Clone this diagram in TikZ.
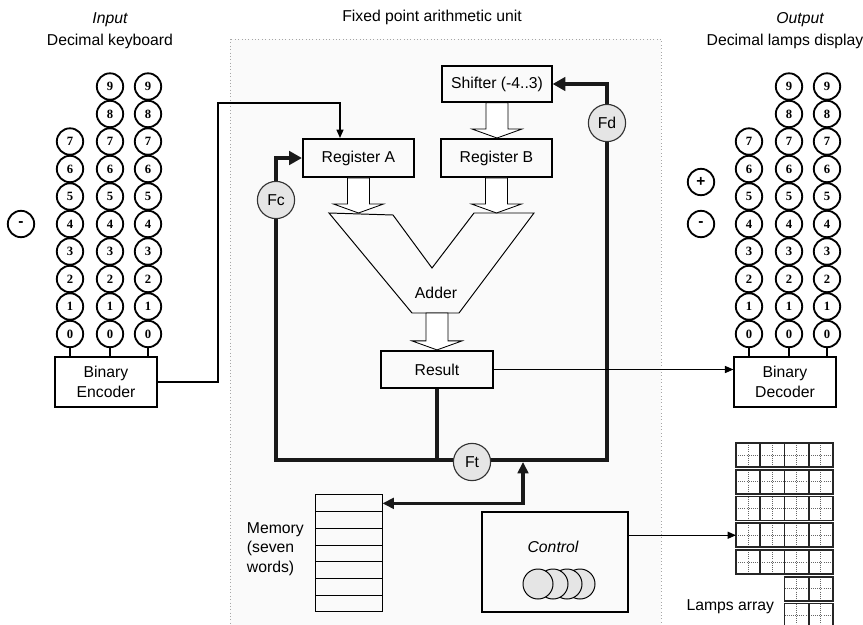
\documentclass[tikz,border=0pt]{standalone}
\usepackage{fontspec}
\setmainfont{Liberation Sans}
\newfontfamily\keyfont{Liberation Serif}
\usetikzlibrary{arrows.meta,calc}
\tikzset{
	keycap/.style={circle, draw, line width=1.3pt, minimum size=0.66cm, inner sep=0pt, font=\keyfont\bfseries\fontsize{9}{10}\selectfont},
	signcap/.style={keycap, font=\bfseries\fontsize{11}{12}\selectfont},
	flag/.style={circle, draw=black!80, fill=black!10, line width=0.8pt, minimum size=0.93cm, inner sep=0pt},
	reg/.style={draw, line width=1.4pt, minimum width=2.78cm, minimum height=0.95cm},
	coder/.style={draw, line width=0.8pt, minimum width=2.55cm, minimum height=1.25cm, align=center, font=\fontsize{11.2}{14}\selectfont},
	memcell/.style={draw, line width=0.7pt, minimum width=1.675cm, minimum height=0.42cm, inner sep=0pt},
	bus/.style={line width=2.8pt, draw=black!90},
	bushead/.style={-{Triangle[length=9pt,width=9.5pt]}},
	wire/.style={line width=0.9pt, -{Triangle[length=6pt,width=5pt]}},
	fat/.style={line width=0.6pt, fill=white},
	lampdot/.style={densely dotted, line width=0.5pt, draw=black!60}
}
% open block arrow from #1 down to the tip #2
\def\fatarrow(#1)(#2){\draw[fat] ($(#1)+(-11,0)$) -- ($(#1)+(11,0)$) -- ($(#2)+(11,-9)$) -- ($(#2)+(25,-9)$) -- (#2) -- ($(#2)+(-25,-9)$) -- ($(#2)+(-11,-9)$) -- cycle;}

\begin{document}
\begin{tikzpicture}[x=0.025cm, y=-0.025cm, font=\fontsize{11.2}{13.5}\selectfont]
	%%%%% START %%%%%
	\clip (0,0) rectangle (863,625);
	
	% unit frame
	\draw[dotted, draw=black!35, fill=black!2] (230,39) rectangle (661,640);
	\node (unittitle) at (432,17) {Fixed point arithmetic unit};
	\node (intitle) at (110,20) {\itshape Input};
	\node (inlabel) at (110,41) {Decimal keyboard};
	\node (outtitle) at (800,20) {\itshape Output};
	\node (outlabel) at (785,41) {Decimal lamps display};
	
	% keyboard
	\node[coder] (encoder) at (106,382) {Binary\\Encoder};
	\foreach \c/\x/\n in {1/70/7,2/110/9,3/148/9}{
		\foreach \d in {0,...,\n}
			\node[keycap] (in\c\d) at (\x,{334-27.5*\d}) {\d};
		\draw[line width=0.9pt] (in\c0) -- (in\c0 |- encoder.north);
	}
	\node[signcap] (inminus) at (21,224) {-};
	
	% lamps display
	\node[coder] (decoder) at (785,382) {Binary\\Decoder};
	\foreach \c/\x/\n in {1/749/7,2/789/9,3/827/9}{
		\foreach \d in {0,...,\n}
			\node[keycap] (out\c\d) at (\x,{334-27.5*\d}) {\d};
		\draw[line width=0.9pt] (out\c0) -- (out\c0 |- decoder.north);
	}
	\node[signcap] (outplus) at (701,182) {+};
	\node[signcap] (outminus) at (701,224) {-};
	
	% registers and adder
	\node[draw, line width=0.9pt, minimum width=2.75cm, minimum height=0.9cm] (shifter) at (497,84) {Shifter (-4..3)};
	\node[reg] (regA) at (358.5,158) {Register A};
	\node[reg] (regB) at (496.5,158) {Register B};
	\node[reg, minimum width=2.8cm, minimum height=0.93cm] (result) at (437,369.5) {Result};
	
	\coordinate (a1) at (329,213);
	\coordinate (a2) at (393,215);
	\coordinate (a3) at (432,268);
	\coordinate (a4) at (474,213);
	\coordinate (a5) at (534,213);
	\coordinate (a6) at (459,313);
	\coordinate (a7) at (412,313);
	\draw[line width=0.7pt] (a1) -- (a2) -- (a3) -- (a4) -- (a5) -- (a6) -- (a7) -- cycle;
	\node (adder) at (436,293) {Adder};
	
	\fatarrow(shifter.south)(shifter.south |- regB.north)
	\fatarrow(regA.south)(regA.south |- a1)
	\fatarrow(regB.south)(regB.south |- a5)
	\fatarrow(result.north |- a7)(result.north)
	
	% keyboard into register A
	\coordinate (kb) at (218,103);
	\draw[wire] (encoder.east) -| (kb) -| ($(regA.north)+(-18.5,0)$);
	
	% result bus
	\coordinate (lb) at (276,460);
	\coordinate (rb) at (607,460);
	\draw[bus, {Triangle[length=9pt,width=9.5pt]}-{Triangle[length=9pt,width=9.5pt]}] (regA.west) -| (lb) -- (rb) |- (shifter.east);
	\draw[bus] (result.south) -- (result.south |- lb);
	\draw[wire] (result.east) -- (result.east -| decoder.west);
	
	\node[flag] (fc) at (276,200) {Fc};
	\node[flag] (fd) at (607,123) {Fd};
	\node[flag] (ft) at (472,462) {Ft};
	
	% memory
	\foreach \k in {1,...,7}
		\node[memcell] (mem\k) at (348.5,{495+16.7*(\k-0.5)}) {};
	\node[anchor=west, align=left, font=\fontsize{11.2}{13.8}\selectfont] (memlabel) at (242,549) {Memory\\(seven\\words)};
	\coordinate (mt) at (523,462);
	\draw[bus, line width=2.2pt, {Triangle[length=8pt,width=7.5pt]}-{Triangle[length=8pt,width=7.5pt]}] (mem1.east) -| (mt);
	
	% control
	\node[draw, line width=0.8pt, minimum width=3.65cm, minimum height=2.5cm] (control) at (555,562) {};
	\node (ctrllabel) at (553,547) {\itshape Control};
	\foreach \x in {580,567,553,538}
		\draw[fill=black!10, line width=0.7pt] (\x,584) circle (0.375cm);
	
	% lamps array
	\foreach \i [evaluate=\i as \ly using 443+26.75*\i] in {0,...,6}{
		\coordinate (lamp\i) at (736,\ly+12);
		\foreach \j [evaluate=\j as \lx using 736+24.25*\j] in {0,...,3}{
			\ifnum\i<5\relax
				\draw[lampdot] (\lx+12,\ly) -- (\lx+12,\ly+24) (\lx,\ly+12) -- (\lx+24,\ly+12);
				\draw[line width=1.1pt, draw=black!85] (\lx,\ly) rectangle (\lx+24.25,\ly+24);
			\else\ifnum\j>1\relax
				\draw[lampdot] (\lx+12,\ly) -- (\lx+12,\ly+24) (\lx,\ly+12) -- (\lx+24,\ly+12);
				\draw[line width=1.1pt, draw=black!85] (\lx,\ly) rectangle (\lx+24.25,\ly+24);
			\fi\fi
		}
	}
	\node[anchor=east] (lamplabel) at (779,607) {Lamps array};
	\draw[wire] (control.east |- lamp3) -- (lamp3);
	
	%%%%% END %%%%%
\end{tikzpicture}
\end{document}
